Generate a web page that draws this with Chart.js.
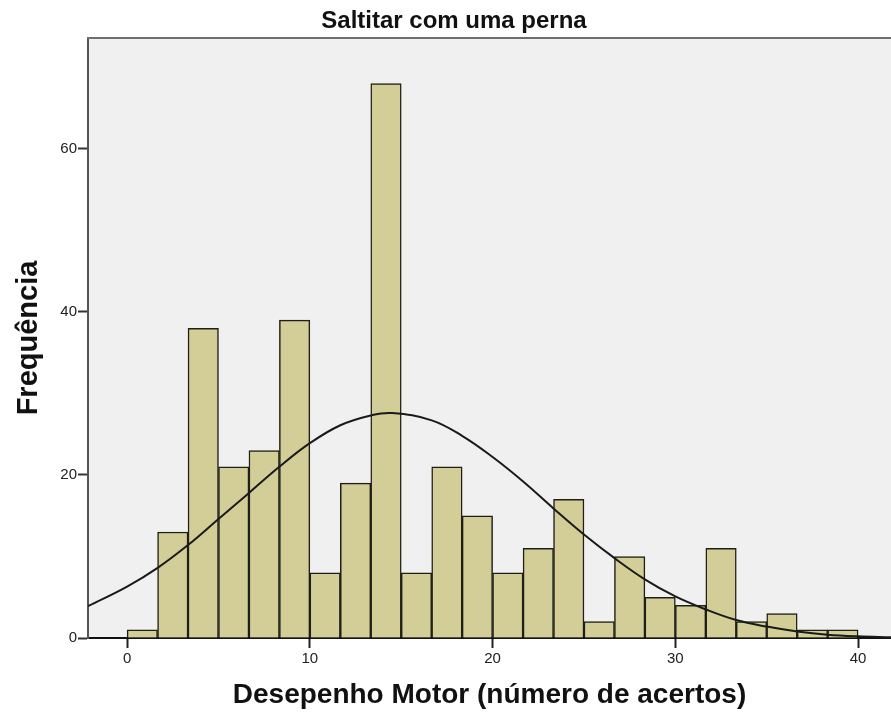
<!DOCTYPE html>
<html lang="pt">
<head>
<meta charset="UTF-8">
<title>Saltitar com uma perna</title>
<script src="https://cdn.jsdelivr.net/npm/chart.js@4.4.1/dist/chart.umd.min.js"></script>
<style>
    body { margin: 0; background: #ffffff; }
    canvas { display: block; }
</style>
</head>
<body>
<canvas id="histograma" width="891" height="717"></canvas>
<script>
// Limite inferior de cada classe do histograma
const inicioClasses = [0, 1.667, 3.333, 5, 6.667, 8.333, 10, 11.667, 13.333, 15, 16.667, 18.333,
    20, 21.667, 23.333, 25, 26.667, 28.333, 30, 31.667, 33.333, 35, 36.667, 38.333];
const larguraClasse = 1.667;

// Frequência de cada classe
const frequencias = [1, 13, 38, 21, 23, 39, 8, 19, 68, 8, 21, 15, 8, 11, 17, 2, 10, 5, 4, 11, 2, 3, 1, 1];

// Pontos da curva normal
const curvaX = [-2.14, 0, 1.67, 3.33, 5, 6.67, 8.33, 10, 11.67, 13.33, 14.5, 16.67, 18.33,
    20, 21.67, 23.33, 25, 26.67, 28.33, 30, 31.67, 33.33, 35, 36.67, 38.33, 40, 41.8];
const curvaY = [3.9, 6.3, 8.6, 11.4, 14.6, 17.8, 21.0, 23.9, 26.1, 27.3, 27.6, 26.7, 24.8,
    22.2, 19.2, 15.9, 12.7, 9.8, 7.2, 5.1, 3.5, 2.2, 1.4, 0.8, 0.4, 0.2, 0.1];

// Marcas dos eixos
const ticksX = [0, 10, 20, 30, 40];
const ticksY = [0, 20, 40, 60];

const fonte = "'Liberation Sans', Arial, sans-serif";

// Fundo cinza da área do gráfico, borda superior e título
const fundoPlugin = {
    id: "fundo",
    beforeDraw(chart) {
        const { ctx, chartArea } = chart;
        ctx.save();
        ctx.fillStyle = "#f0f0f0";
        ctx.fillRect(chartArea.left, chartArea.top, chartArea.right - chartArea.left, chartArea.bottom - chartArea.top);
        ctx.restore();
    },
    afterDraw(chart) {
        const { ctx, chartArea } = chart;
        ctx.save();
        ctx.strokeStyle = "#6e6e6e";
        ctx.lineWidth = 2;
        ctx.beginPath();
        ctx.moveTo(chartArea.left - 1, chartArea.top);
        ctx.lineTo(chartArea.right, chartArea.top);
        ctx.stroke();

        ctx.fillStyle = "#111111";
        ctx.font = "bold 24px " + fonte;
        ctx.textAlign = "center";
        ctx.textBaseline = "alphabetic";
        ctx.fillText("Saltitar com uma perna", 454, 28);
        ctx.restore();
    }
};

const barras = inicioClasses.map((inicio, i) => ({ x: inicio + larguraClasse / 2, y: frequencias[i] }));
const curva = curvaX.map((x, i) => ({ x: x, y: curvaY[i] }));

const config = {
    type: "bar",
    data: {
        datasets: [
            {
                type: "line",
                label: "Normal",
                data: curva,
                borderColor: "#1a1a1a",
                borderWidth: 2,
                pointRadius: 0,
                tension: 0.4,
                order: 0,
            },
            {
                label: "Frequência",
                data: barras,
                backgroundColor: "#d3ce97",
                borderColor: "#1f1f16",
                borderWidth: 1.5,
                barPercentage: 1,
                categoryPercentage: 1,
                order: 1,
            }
        ]
    },
    options: {
        responsive: false,
        animation: false,
        layout: {
            padding: { top: 38, right: 0, left: 0, bottom: 0 }
        },
        plugins: {
            legend: { display: false },
            title: { display: false },
            tooltip: { enabled: false },
        },
        scales: {
            x: {
                type: "linear",
                min: -2.14,
                max: 41.8,
                offset: false,
                afterBuildTicks: (scale) => {
                    scale.ticks = ticksX.map(v => ({ value: v }));
                },
                afterFit: (scale) => {
                    scale.height = 79;
                },
                grid: {
                    offset: false,
                    drawOnChartArea: false,
                    drawTicks: true,
                    tickLength: 10,
                    tickWidth: 2,
                    tickColor: "#222222",
                },
                border: { display: true, color: "#111111", width: 2 },
                ticks: {
                    color: "#222222",
                    padding: 2,
                    maxRotation: 0,
                    font: { family: fonte, size: 15 },
                },
                title: {
                    display: true,
                    text: "Desepenho Motor (número de acertos)",
                    color: "#111111",
                    font: { family: fonte, size: 28, weight: "bold" },
                    padding: { top: 0, bottom: 5 },
                }
            },
            y: {
                min: 0,
                max: 73.6,
                afterBuildTicks: (scale) => {
                    scale.ticks = ticksY.map(v => ({ value: v }));
                },
                afterFit: (scale) => {
                    scale.width = 88;
                },
                grid: {
                    drawOnChartArea: false,
                    drawTicks: true,
                    tickLength: 10,
                    tickWidth: 2,
                    tickColor: "#333333",
                },
                border: { display: true, color: "#555555", width: 2 },
                ticks: {
                    color: "#222222",
                    padding: 1,
                    font: { family: fonte, size: 15 },
                },
                title: {
                    display: true,
                    text: "Frequência",
                    color: "#111111",
                    font: { family: fonte, size: 29, weight: "bold" },
                    padding: { top: 12, bottom: 0 },
                }
            }
        }
    },
    plugins: [fundoPlugin]
};

new Chart(document.getElementById("histograma"), config);
</script>
</body>
</html>
